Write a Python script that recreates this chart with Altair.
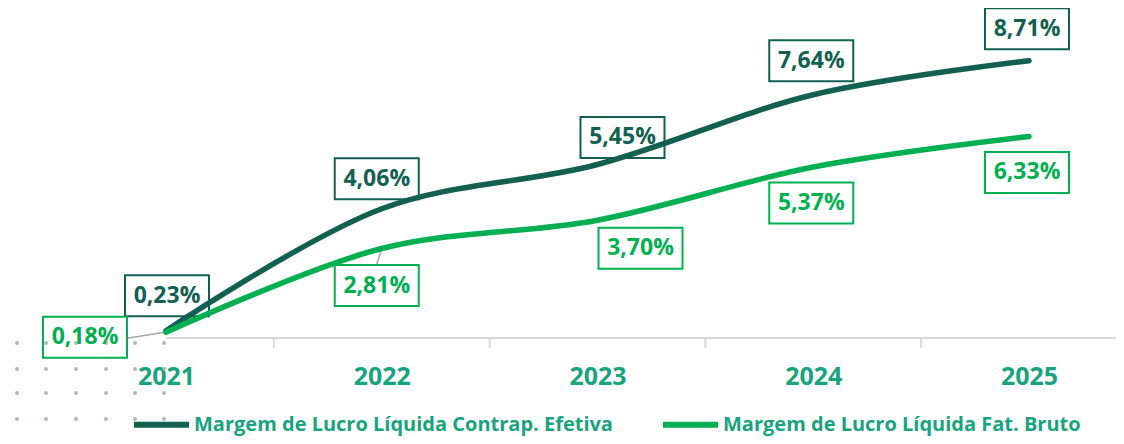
import altair as alt
import pandas as pd

# ---------------- data ----------------
years = [2021, 2022, 2023, 2024, 2025]
series_names = [
    "Margem de Lucro Líquida Contrap. Efetiva",
    "Margem de Lucro Líquida Fat. Bruto",
]
contrap_efetiva = [0.23, 4.06, 5.45, 7.64, 8.71]
fat_bruto = [0.18, 2.81, 3.70, 5.37, 6.33]

# ---------------- style ----------------
DARK = "#135f52"
LIGHT = "#00b050"
TEAL = "#17a37e"
GRID = "#d9d9d9"
FONT = "Open Sans"

W, H = 1108, 330
X_DOMAIN = [2020.2677, 2025.4032]
Y_DOMAIN = [0, 10.364]

rows = []
for name, vals in zip(series_names, [contrap_efetiva, fat_bruto]):
    for y, v in zip(years, vals):
        rows.append({"year": y, "value": v, "series": name,
                     "label": f"{v:.2f}".replace(".", ",") + "%"})
df = pd.DataFrame(rows)

x_scale = alt.Scale(domain=X_DOMAIN, nice=False, zero=False)
y_scale = alt.Scale(domain=Y_DOMAIN, nice=False, zero=False)
color_scale = alt.Scale(domain=series_names, range=[DARK, LIGHT])

x_axis = alt.Axis(values=years, format="d", ticks=False, domain=False,
                  grid=False, title=None, labelFontSize=25,
                  labelFont=FONT, labelFontWeight="bold",
                  labelColor=TEAL, labelPadding=26)


def X(field):
    return alt.X(field, scale=x_scale, axis=x_axis)


def Y(field):
    return alt.Y(field, scale=y_scale, axis=None)


base = alt.Chart(df)

# axis baseline and ticks between categories
axis_df = pd.DataFrame({"year": [years[0]]})
baseline = alt.Chart(axis_df).mark_rule(color=GRID, strokeWidth=2).encode(
    x=X("year:Q"), x2=alt.value(W), y=alt.value(H),
)
bounds_df = pd.DataFrame({"b": [(a + b) / 2 for a, b in zip(years[:-1], years[1:])]})
ticks = alt.Chart(bounds_df).mark_rule(color=GRID, strokeWidth=2).encode(
    x=X("b:Q"), y=alt.value(H), y2=alt.value(H + 10)
)

# label offsets (pixels, relative to the data point): style only
offsets = {
    (series_names[0], 2021): (1, -35),
    (series_names[0], 2022): (-5, -30),
    (series_names[0], 2023): (25, -27),
    (series_names[0], 2024): (-2, -34),
    (series_names[0], 2025): (-2, -32),
    (series_names[1], 2021): (-81, 5),
    (series_names[1], 2022): (-5, 37),
    (series_names[1], 2023): (43, 28),
    (series_names[1], 2024): (-2, 36),
    (series_names[1], 2025): (-2, 36),
}
BW, BH = 84, 41

label_layers = []
for (sname, yr), (dx, dy) in offsets.items():
    col = DARK if sname == series_names[0] else LIGHT
    sel = base.transform_filter(
        (alt.datum.series == sname) & (alt.datum.year == yr)
    )
    box = sel.mark_rect(
        fillOpacity=0, stroke=col, strokeWidth=2,
        xOffset=dx - BW / 2, x2Offset=dx + BW / 2,
        yOffset=dy - BH / 2, y2Offset=dy + BH / 2,
    ).encode(x=X("year:Q"), x2="year:Q", y=Y("value:Q"), y2="value:Q")
    txt = sel.mark_text(
        dx=dx, dy=dy, font=FONT, fontSize=23, fontWeight="bold", color=col,
        align="center", baseline="middle",
    ).encode(x=X("year:Q"), y=Y("value:Q"), text="label:N")
    label_layers += [box, txt]

# leader lines (grey) for two of the light labels
leaders = []
for yr, (x0, y0, x1, y1) in {2021: (-39, 6, -1, 0), 2022: (-5, 16, 0, 0)}.items():
    sel = base.transform_filter(
        (alt.datum.series == series_names[1]) & (alt.datum.year == yr)
    )
    leaders.append(sel.mark_rule(
        color="#a6a6a6", strokeWidth=1.5,
        xOffset=x0, yOffset=y0, x2Offset=x1, y2Offset=y1,
    ).encode(x=X("year:Q"), x2="year:Q", y=Y("value:Q"), y2="value:Q"))

lines = base.mark_line(
    interpolate="catmull-rom", strokeWidth=5.5, strokeCap="round"
).encode(
    x=X("year:Q"),
    y=Y("value:Q"),
    color=alt.Color(
        "series:N", scale=color_scale, sort=series_names,
        legend=alt.Legend(
            title=None, orient="none", legendX=123, legendY=386,
            direction="horizontal", symbolType="stroke", symbolSize=3025,
            symbolStrokeWidth=6, labelFont=FONT, labelFontSize=20,
            labelFontWeight="bold", labelColor=TEAL, labelLimit=800,
            labelOffset=2, columnPadding=38, padding=0,
        ),
    ),
)

# decorative dot pattern in the lower-left corner (background decoration)
dot_cols_px = [9, 38, 68, 98, 127, 156]
dot_rows_px = [335, 361, 385, 411, 435]
px_per_year = W / (X_DOMAIN[1] - X_DOMAIN[0])
px_per_pct = H / (Y_DOMAIN[1] - Y_DOMAIN[0])
dots_df = pd.DataFrame(
    [{"dx": X_DOMAIN[0] + c / px_per_year, "dy": (H - r) / px_per_pct}
     for c in dot_cols_px for r in dot_rows_px]
)
dots = alt.Chart(dots_df).mark_circle(size=16, color="#a3b3ab", opacity=0.9).encode(
    x=X("dx:Q"), y=Y("dy:Q")
)

chart = alt.layer(
    dots, baseline, ticks, *leaders, *label_layers, lines
).properties(
    width=W, height=H,
    autosize=alt.AutoSizeParams(type="none"),
    padding={"left": 0, "top": 0, "right": 0, "bottom": 98},
).configure_view(stroke=None)

chart.save("out.html", embed_options={"renderer": "svg", "actions": False})
